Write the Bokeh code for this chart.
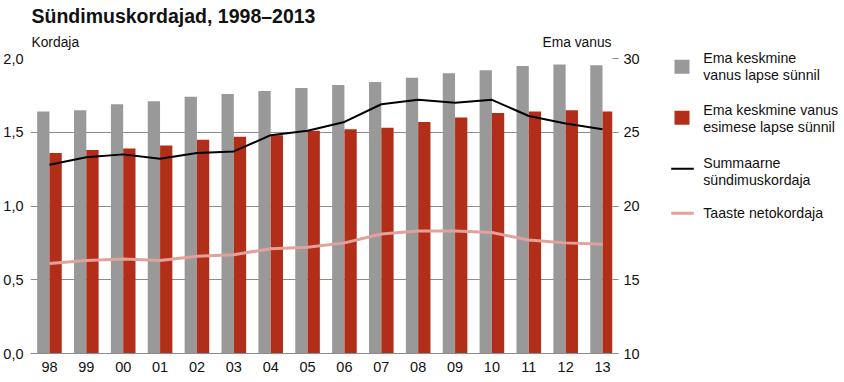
from bokeh.plotting import figure
from bokeh.models import (Range1d, LinearAxis, FixedTicker, CustomJSTickFormatter,
                          ColumnDataSource)
from bokeh.layouts import row, column
from bokeh.transform import dodge
from bokeh.embed import file_html
from bokeh.resources import INLINE
from bokeh.core.properties import value

# ---------------- data ----------------
year_labels = ["98", "99", "00", "01", "02", "03", "04", "05",
               "06", "07", "08", "09", "10", "11", "12", "13"]
mother_age_birth = [26.4, 26.5, 26.9, 27.1, 27.4, 27.6, 27.8, 28.0,
                    28.2, 28.4, 28.7, 29.0, 29.2, 29.5, 29.6, 29.55]
mother_age_first = [23.6, 23.8, 23.9, 24.1, 24.5, 24.7, 24.8, 25.1,
                    25.2, 25.3, 25.7, 26.0, 26.3, 26.4, 26.5, 26.4]
tfr = [1.28, 1.33, 1.35, 1.32, 1.36, 1.37, 1.48, 1.51,
       1.57, 1.69, 1.72, 1.70, 1.72, 1.61, 1.56, 1.52]
nrr = [0.61, 0.63, 0.64, 0.63, 0.66, 0.67, 0.71, 0.72,
       0.75, 0.81, 0.83, 0.83, 0.82, 0.77, 0.75, 0.74]
left_ticks = [0.0, 0.5, 1.0, 1.5, 2.0]
right_ticks = [10, 15, 20, 25, 30]
legend_labels = ["Ema keskmine\nvanus lapse sünnil",
                 "Ema keskmine vanus\nesimese lapse sünnil",
                 "Summaarne\nsündimuskordaja",
                 "Taaste netokordaja"]
title_text = "Sündimuskordajad, 1998–2013"
left_title = "Kordaja"
right_title = "Ema vanus"

# ---------------- style ----------------
FONT = "Liberation Sans"
GRAY = "#999999"
RED = "#b22e18"
PINK = "#e3a19b"
GRID = "#8c8c8c"
TXT = "#111111"
SHIFT = 4.5  # alphabetic-baseline correction for text glyphs

MAIN_W = 642
TITLE_H = 50
BL, BR, BT, BB = 29, 30, 8, 26
FRAME_H = 295
MAIN_H = BT + FRAME_H + BB
TOTAL_H = TITLE_H + MAIN_H
LEG_W = 198
X0, X1 = -0.514, 15.27
Y0, Y1 = 0.0, 2.0

src = ColumnDataSource(dict(x=list(range(len(year_labels))),
                            age_b=mother_age_birth, age_f=mother_age_first,
                            tfr=tfr, nrr=nrr))

# ---------------- title strip (frame aligned with the chart frame) ----------------
tf = figure(width=MAIN_W, height=TITLE_H, x_range=Range1d(BL, MAIN_W - BR),
            y_range=Range1d(TITLE_H, 0), output_backend="svg",
            toolbar_location=None, title=None, x_axis_location=None,
            y_axis_location=None, min_border_left=BL, min_border_right=BR,
            min_border_top=0, min_border_bottom=0, outline_line_color=None)
tf.grid.visible = False
tf.text(x=[30], y=[20 - SHIFT], text=[title_text], text_font=value(FONT),
        text_font_size="19.5px", text_font_style="bold", text_color=TXT,
        text_baseline="alphabetic", text_align="left")
tf.text(x=[30], y=[46.7 - SHIFT], text=[left_title], text_font=value(FONT),
        text_font_size="13.8px", text_color=TXT, text_baseline="alphabetic",
        text_align="left")
tf.text(x=[611], y=[46.7 - SHIFT], text=[right_title], text_font=value(FONT),
        text_font_size="13.8px", text_color=TXT, text_baseline="alphabetic",
        text_align="right")

# ---------------- main chart ----------------
p = figure(width=MAIN_W, height=MAIN_H, x_range=Range1d(X0, X1),
           y_range=Range1d(Y0, Y1), output_backend="svg",
           toolbar_location=None, title=None,
           min_border_left=BL, min_border_right=BR, min_border_top=BT,
           min_border_bottom=BB, outline_line_color=None)
p.extra_y_ranges = {"age": Range1d(10, 30)}

p.vbar(x=dodge("x", -0.167), top="age_b", bottom=10, width=0.333, source=src,
       y_range_name="age", fill_color=GRAY, line_color=None)
p.vbar(x=dodge("x", 0.167), top="age_f", bottom=10, width=0.333, source=src,
       y_range_name="age", fill_color=RED, line_color=None)
p.line(x="x", y="nrr", source=src, line_color=PINK, line_width=3)
p.line(x="x", y="tfr", source=src, line_color="black", line_width=2)

p.xaxis.ticker = FixedTicker(ticks=list(range(len(year_labels))))
p.xaxis.formatter = CustomJSTickFormatter(args=dict(labels=year_labels),
                                          code="return labels[Math.round(tick)];")
p.xaxis.axis_line_color = GRID
p.xaxis.major_tick_line_color = None
p.xaxis.major_tick_in = 0
p.xaxis.major_tick_out = 0
p.xaxis.minor_tick_line_color = None
p.xaxis.minor_tick_in = 0
p.xaxis.minor_tick_out = 0
p.xaxis.major_label_standoff = 8
p.xaxis.major_label_text_font = FONT
p.xaxis.major_label_text_font_size = "14.5px"
p.xaxis.major_label_text_color = TXT

p.yaxis.ticker = FixedTicker(ticks=left_ticks)
p.yaxis.formatter = CustomJSTickFormatter(code="return tick.toFixed(1).replace('.', ',');")
p.yaxis.axis_line_color = None
p.yaxis.major_tick_line_color = None
p.yaxis.major_tick_in = 0
p.yaxis.major_tick_out = 0
p.yaxis.minor_tick_line_color = None
p.yaxis.minor_tick_in = 0
p.yaxis.minor_tick_out = 0
p.yaxis.major_label_standoff = 7
p.yaxis.major_label_text_font = FONT
p.yaxis.major_label_text_font_size = "14.5px"
p.yaxis.major_label_text_color = TXT

ra = LinearAxis(y_range_name="age", ticker=FixedTicker(ticks=right_ticks))
ra.axis_line_color = None
ra.major_tick_line_color = GRID
ra.major_tick_in = 0
ra.major_tick_out = 6
ra.minor_tick_line_color = None
ra.minor_tick_in = 0
ra.minor_tick_out = 0
ra.major_label_standoff = 5
ra.major_label_text_font = FONT
ra.major_label_text_font_size = "14.5px"
ra.major_label_text_color = TXT
p.add_layout(ra, "right")

p.xgrid.grid_line_color = None
p.ygrid.ticker = FixedTicker(ticks=left_ticks)
p.ygrid.grid_line_color = GRID
p.ygrid.grid_line_width = 1

# ---------------- legend ----------------
lg = figure(width=LEG_W, height=TOTAL_H, x_range=Range1d(0, LEG_W),
            y_range=Range1d(TOTAL_H, 0), output_backend="svg",
            toolbar_location=None, title=None, x_axis_location=None,
            y_axis_location=None, min_border=0, outline_line_color=None)
lg.grid.visible = False

sq_x = 39.5
lg.rect(x=[sq_x, sq_x], y=[66.3, 117.2], width=15, height=14,
        fill_color=[GRAY, RED], line_color=None)
lg.line(x=[28.7, 51.3], y=[168.3, 168.3], line_color="black", line_width=2)
lg.line(x=[28.7, 51.3], y=[212.7, 212.7], line_color=PINK, line_width=3)

first_baselines = [62.3, 114.0, 166.7, 216.7]
tx, ty, tt = [], [], []
for lab, b in zip(legend_labels, first_baselines):
    for k, line in enumerate(lab.split("\n")):
        tx.append(60.7)
        ty.append(b + 16.8 * k - SHIFT)
        tt.append(line)
lg.text(x=tx, y=ty, text=tt, text_font=value(FONT), text_font_size="14.2px",
        text_color=TXT, text_baseline="alphabetic", text_align="left")

layout = row(column(tf, p), lg)
open("out.html", "w").write(file_html(layout, INLINE))
